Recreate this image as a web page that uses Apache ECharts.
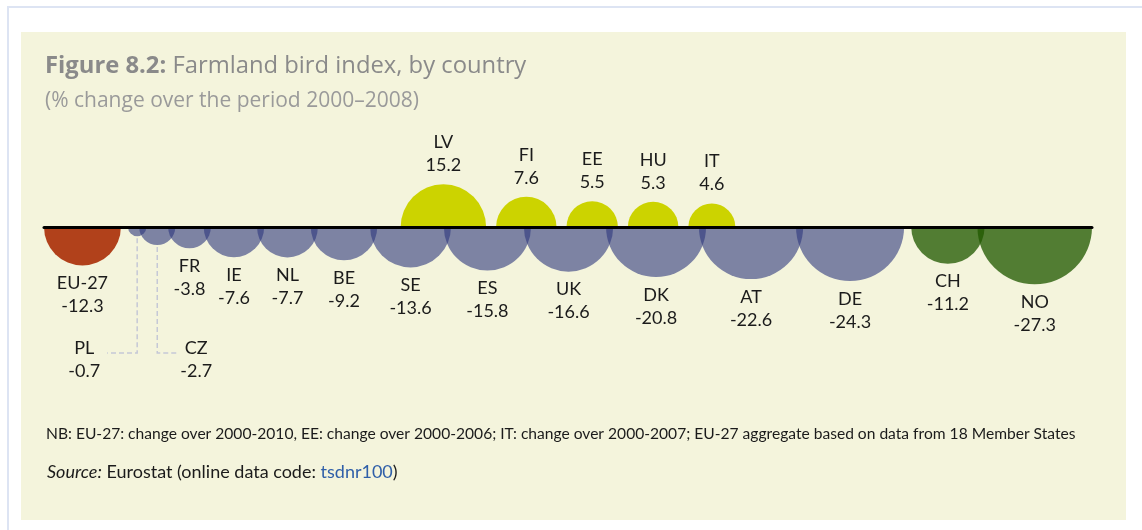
<!DOCTYPE html>
<html>
<head>
<meta charset="utf-8">
<script src="https://cdn.jsdelivr.net/npm/echarts@6/dist/echarts.min.js"></script>
<style>
  html, body { margin: 0; padding: 0; background: #ffffff; }
  #chart { width: 1142px; height: 530px; }
</style>
</head>
<body>
<div id="chart"></div>
<script>
// Farmland bird index, % change over 2000–2008
const gainCountries = ['LV', 'FI', 'EE', 'HU', 'IT'];
const gainValues = [15.2, 7.6, 5.5, 5.3, 4.6];

const lossCountries = ['EU-27', 'PL', 'CZ', 'FR', 'IE', 'NL', 'BE', 'SE', 'ES', 'UK', 'DK', 'AT', 'DE', 'CH', 'NO'];
const lossValues = [-12.3, -0.7, -2.7, -3.8, -7.6, -7.7, -9.2, -13.6, -15.8, -16.6, -20.8, -22.6, -24.3, -11.2, -27.3];
const lossGroups = ['aggregate', 'member', 'member', 'member', 'member', 'member', 'member', 'member',
                    'member', 'member', 'member', 'member', 'member', 'other', 'other'];

const titleBold = 'Figure 8.2:';
const titleText = 'Farmland bird index, by country';
const subtitleText = '(% change over the period 2000\u20132008)';
const noteText = 'NB: EU-27: change over 2000-2010, EE: change over 2000-2006; IT: change over 2000-2007; EU-27 aggregate based on data from 18 Member States';
const sourceCode = 'tsdnr100';

// Circle area is proportional to the change, so radius ~ sqrt(|value|)
const radius = v => Math.sqrt(Math.abs(v));
const OVERLAP = 0.65;     // neighbouring circles within a group overlap slightly
const GROUP_GAP = 0.65;   // space between groups
const GAIN_GAP = 0.91;    // space between circles above the line

const lossX = [];
{
  let px = 0, pr = 0, pg = null;
  lossValues.forEach((v, i) => {
    const r = radius(v);
    let x;
    if (i === 0) x = r;
    else if (lossGroups[i] === pg) x = px + pr + r - OVERLAP;
    else x = px + pr + GROUP_GAP + r;
    lossX.push(x);
    px = x; pr = r; pg = lossGroups[i];
  });
}
const span = lossX[lossX.length - 1] + radius(lossValues[lossValues.length - 1]);

const gainX = [];
{
  const total = gainValues.reduce((s, v) => s + 2 * radius(v), 0) + GAIN_GAP * (gainValues.length - 1);
  let left = span / 2 - total / 2;
  gainValues.forEach(v => {
    const r = radius(v);
    gainX.push(left + r);
    left += 2 * r + GAIN_GAP;
  });
}

const fills = {
  aggregate: '#b1411b',
  member: 'rgba(45,55,125,0.6)',
  other: 'rgba(33,89,0,0.77)',
  gain: '#ccd300'
};
const calloutSide = { PL: -1, CZ: 1 };

const items = [];
lossCountries.forEach((n, i) => items.push({ name: n, value: [lossX[i], 0, lossValues[i]], group: lossGroups[i] }));
gainCountries.forEach((n, i) => items.push({ name: n, value: [gainX[i], 0, gainValues[i]], group: 'gain' }));

const LABEL_FONT = '18px Lato';
const labelStyle = text => ({ text, fill: '#1b1b1b', font: LABEL_FONT, align: 'center', verticalAlign: 'middle' });

function renderItem(params, api) {
  const item = items[params.dataIndex];
  const v = item.value[2];
  const c = api.coord([item.value[0], 0]);
  const r = api.size([radius(v), 0])[0];
  const up = v > 0;
  const children = [{
    type: 'sector',
    shape: { cx: c[0], cy: c[1], r0: 0, r: r,
             startAngle: up ? Math.PI : 0, endAngle: up ? 2 * Math.PI : Math.PI, clockwise: true },
    style: { fill: fills[item.group] }
  }];
  const valText = String(v);
  if (up) {
    children.push({ type: 'text', x: c[0], y: c[1] - r - 42, style: labelStyle(item.name) });
    children.push({ type: 'text', x: c[0], y: c[1] - r - 19, style: labelStyle(valText) });
  } else if (calloutSide[item.name]) {
    const side = calloutSide[item.name];
    const yLead = c[1] + 126;
    const xEnd = c[0] + side * (side < 0 ? 30 : 20);
    children.push({
      type: 'polyline',
      shape: { points: [[c[0], c[1] + r + 2], [c[0], yLead], [xEnd, yLead]] },
      style: { stroke: '#c5c8d6', lineWidth: 1.5, lineDash: [5, 3], fill: null }
    });
    const lx = xEnd + side * (side < 0 ? 23 : 19);
    children.push({ type: 'text', x: lx, y: c[1] + 121, style: labelStyle(item.name) });
    children.push({ type: 'text', x: lx, y: c[1] + 144, style: labelStyle(valText) });
  } else {
    children.push({ type: 'text', x: c[0], y: c[1] + r + 18, style: labelStyle(item.name) });
    children.push({ type: 'text', x: c[0], y: c[1] + r + 41, style: labelStyle(valText) });
  }
  return { type: 'group', children };
}

const chart = echarts.init(document.getElementById('chart'), null, { renderer: 'canvas' });
chart.setOption({
  backgroundColor: '#ffffff',
  animation: false,
  graphic: [
    { type: 'rect', z: -10, shape: { x: 7, y: 6, width: 1135, height: 2 }, style: { fill: '#dde4f3' } },
    { type: 'rect', z: -10, shape: { x: 7, y: 6, width: 2, height: 524 }, style: { fill: '#dde4f3' } },
    { type: 'rect', z: -10, shape: { x: 21, y: 32, width: 1105, height: 488 }, style: { fill: '#f4f4dc' } },
    { type: 'text', left: 47, top: 463, style: {
        text: '{i|Source:}{n| Eurostat (online data code: }{l|' + sourceCode + '}{n|)}',
        rich: {
          i: { font: 'italic 18px Lato', fill: '#1b1b1b' },
          n: { font: '18px Lato', fill: '#1b1b1b' },
          l: { font: '18px Lato', fill: '#2f5fa8' }
        } } },
    { type: 'text', left: 46, top: 426, style: { text: noteText, font: '15.6px Lato', fill: '#1b1b1b' } }
  ],
  title: {
    left: 40, top: 49,
    text: '{b|' + titleBold + '}{r| ' + titleText + '}',
    subtext: subtitleText,
    itemGap: 13,
    textStyle: {
      rich: {
        b: { fontFamily: 'Open Sans', fontWeight: 'bold', fontSize: 23.8, color: '#8a8a8a' },
        r: { fontFamily: 'Open Sans', fontWeight: 'normal', fontSize: 23.8, color: '#8a8a8a' }
      }
    },
    subtextStyle: { fontFamily: 'Open Sans', fontSize: 21, color: '#9a9a9a' }
  },
  grid: { left: 44, right: 50, top: 27, height: 400 },
  xAxis: {
    type: 'value', min: 0, max: span, z: 10,
    axisLine: { onZero: true, lineStyle: { color: '#000000', width: 3 } },
    axisTick: { show: false }, axisLabel: { show: false }, splitLine: { show: false }
  },
  yAxis: { type: 'value', min: -1, max: 1, show: false },
  series: [{
    type: 'custom',
    renderItem: renderItem,
    data: items.map(d => d.value),
    clip: false
  }]
});
</script>
</body>
</html>
